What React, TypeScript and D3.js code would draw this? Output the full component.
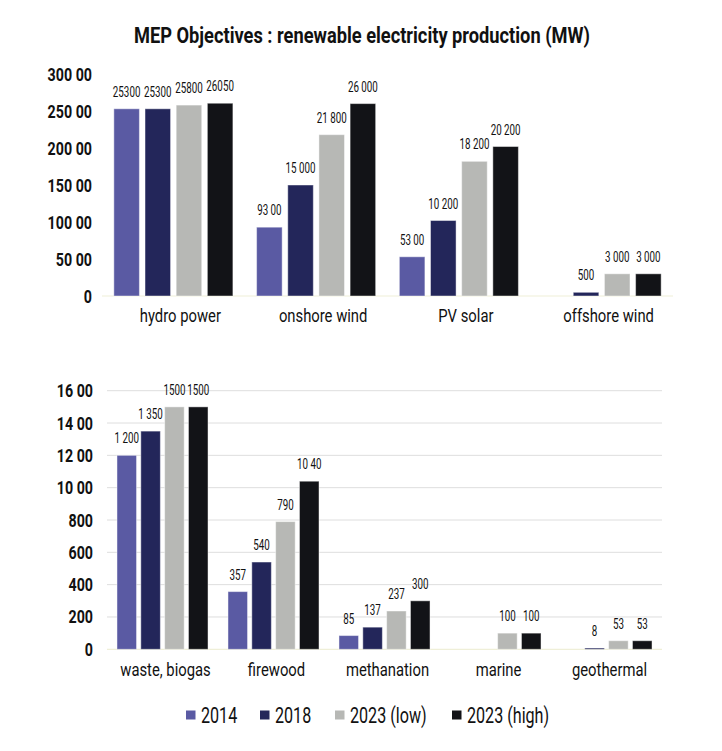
import React from 'react';
import * as d3 from 'd3';

const series = ['2014', '2018', '2023 (low)', '2023 (high)'];
const colors = ['#5a5aa3', '#23265a', '#b7b8b5', '#121317'];

// upper panel
const topCategories = ['hydro power', 'onshore wind', 'PV solar', 'offshore wind'];
const top2014 = [25300, 9300, 5300, null];
const top2018 = [25300, 15000, 10200, 500];
const top2023Low = [25800, 21800, 18200, 3000];
const top2023High = [26050, 26000, 20200, 3000];
const topLabels2014 = ['25300', '93 00', '53 00', null];
const topLabels2018 = ['25300', '15 000', '10 200', '500'];
const topLabels2023Low = ['25800', '21 800', '18 200', '3 000'];
const topLabels2023High = ['26050', '26 000', '20 200', '3 000'];
const topTicks = [0, 5000, 10000, 15000, 20000, 25000, 30000];
const topTickLabels = ['0', '50 00', '100 00', '150 00', '200 00', '250 00', '300 00'];

// lower panel
const bottomCategories = ['waste, biogas', 'firewood', 'methanation', 'marine', 'geothermal'];
const bottom2014 = [1200, 357, 85, null, null];
const bottom2018 = [1350, 540, 137, null, 8];
const bottom2023Low = [1500, 790, 237, 100, 53];
const bottom2023High = [1500, 1040, 300, 100, 53];
const bottomLabels2014 = ['1 200', '357', '85', null, null];
const bottomLabels2018 = ['1 350', '540', '137', null, '8'];
const bottomLabels2023Low = ['1500', '790', '237', '100', '53'];
const bottomLabels2023High = ['1500', '10 40', '300', '100', '53'];
const bottomTicks = [0, 200, 400, 600, 800, 1000, 1200, 1400, 1600];
const bottomTickLabels = ['0', '200', '400', '600', '800', '10 00', '12 00', '14 00', '16 00'];

const FONT = 'Roboto, "Liberation Sans", sans-serif';
const SQUEEZE = 0.77; // no condensed face installed, so squeeze horizontally

// condensed-looking text
function T({ x, y, size, bold, anchor, sx = SQUEEZE, children }: {
  x: number; y: number; size: number; bold?: boolean; anchor?: string; sx?: number; children: React.ReactNode;
}) {
  return (
    <text transform={`translate(${x},${y}) scale(${sx},1)`} textAnchor={anchor || 'start'}
      fontSize={size} fontWeight={bold ? 'bold' : 'normal'} fill="#111">
      {children}
    </text>
  );
}

interface PanelProps {
  categories: string[];
  values: (number | null)[][];
  labels: (string | null)[][];
  ticks: number[];
  tickLabels: string[];
  xRange: [number, number];
  yRange: [number, number];
  max: number;
  padding: number;
  grid: boolean;
  catLabelY: number;
  catLabelDx: number;
  tickX: number;
}

function Panel({
  categories, values, labels, ticks, tickLabels, xRange, yRange, max,
  padding, grid, catLabelY, catLabelDx, tickX,
}: PanelProps) {
  const x0 = d3.scaleBand<string>()
    .domain(categories)
    .range(xRange)
    .paddingInner(padding)
    .paddingOuter(padding / 2);
  const x1 = d3.scaleBand<string>()
    .domain(series)
    .range([0, x0.bandwidth()])
    .paddingInner(0.18);
  const y = d3.scaleLinear().domain([0, max]).range(yRange);

  return (
    <g>
      {grid && ticks.slice(1).map(t => (
        <line key={'g' + t} x1={xRange[0]} x2={xRange[1]} y1={y(t)} y2={y(t)}
          stroke="#dedede" strokeWidth={1} />
      ))}
      <line x1={xRange[0]} x2={xRange[1]} y1={y(0)} y2={y(0)} stroke="#efefd8" strokeWidth={1.2} />
      {ticks.map((t, i) => (
        <T key={'t' + t} x={tickX} y={y(t) + 6.5} size={18.5} bold anchor="end">{tickLabels[i]}</T>
      ))}
      {categories.map((c, ci) => (
        <g key={c} transform={`translate(${x0(c)},0)`}>
          {series.map((s, si) => {
            const v = values[si][ci];
            if (v === null) return null;
            const bx = x1(s) as number;
            const by = y(v);
            const lab = labels[si][ci];
            return (
              <g key={s}>
                <rect x={bx} y={by} width={x1.bandwidth()} height={y(0) - by}
                  fill={colors[si]} stroke="#ffffff" strokeOpacity={0.45} strokeWidth={1} />
                {lab && (
                  <T x={bx + x1.bandwidth() / 2} y={by - 12} size={14} anchor="middle" sx={0.7}>{lab}</T>
                )}
              </g>
            );
          })}
          <T x={x0.bandwidth() / 2 + catLabelDx} y={catLabelY} size={19} anchor="middle" sx={0.78}>{c}</T>
        </g>
      ))}
    </g>
  );
}

export default function App() {
  const legendItems = series.map((s, i) => ({ label: s, color: colors[i] }));
  const legendX = [186, 260, 335, 452];

  return (
    <svg width={722} height={751} style={{ position: 'absolute', left: 0, top: 0 }}
      fontFamily={FONT}>
      <rect width={722} height={751} fill="#ffffff" />
      <T x={362} y={43} size={22} bold anchor="middle" sx={0.83}>
        MEP Objectives : renewable electricity production (MW)
      </T>

      <Panel
        categories={topCategories}
        values={[top2014, top2018, top2023Low, top2023High]}
        labels={[topLabels2014, topLabels2018, topLabels2023Low, topLabels2023High]}
        ticks={topTicks}
        tickLabels={topTickLabels}
        xRange={[102, 673]}
        yRange={[296, 74]}
        max={30000}
        padding={0.166}
        grid={false}
        catLabelY={322}
        catLabelDx={7}
        tickX={92}
      />

      <Panel
        categories={bottomCategories}
        values={[bottom2014, bottom2018, bottom2023Low, bottom2023High]}
        labels={[bottomLabels2014, bottomLabels2018, bottomLabels2023Low, bottomLabels2023High]}
        ticks={bottomTicks}
        tickLabels={bottomTickLabels}
        xRange={[107, 662]}
        yRange={[649.3, 390.7]}
        max={1600}
        padding={0.18}
        grid={true}
        catLabelY={676}
        catLabelDx={3}
        tickX={93}
      />

      {legendItems.map((d, i) => (
        <g key={d.label} transform={`translate(${legendX[i]},715)`}>
          <rect x={0} y={-4.5} width={9.5} height={9} fill={d.color} />
          <T x={15} y={7.5} size={21.5} sx={0.75}>{d.label}</T>
        </g>
      ))}
    </svg>
  );
}
